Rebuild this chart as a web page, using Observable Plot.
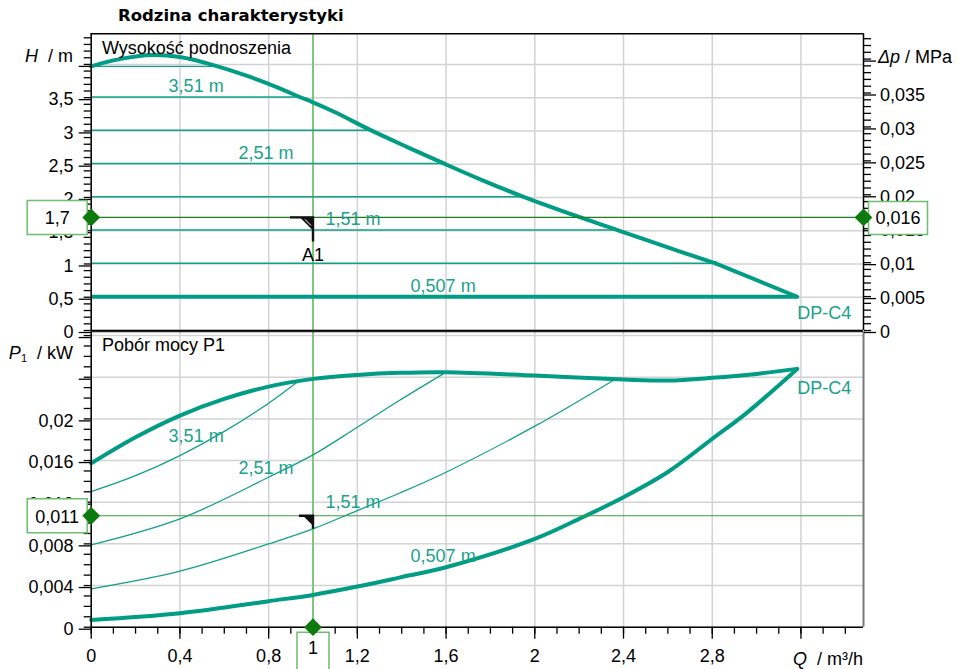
<!DOCTYPE html>
<html>
<head>
<meta charset="utf-8">
<script src="https://cdn.jsdelivr.net/npm/d3@7"></script>
<script src="https://cdn.jsdelivr.net/npm/@observablehq/plot@0.6"></script>
<style>
  html, body { margin: 0; padding: 0; background: #fff; }
  #wrap { position: relative; width: 957px; height: 669px; overflow: hidden; background: #fff;
          font-family: "Liberation Sans", Arial, sans-serif; color: #000; }
  #wrap svg { position: absolute; left: 0; }
  .lbl { position: absolute; font-size: 18px; line-height: 18px; white-space: nowrap; }
  #title { position: absolute; left: 118px; top: 8px; font: bold 16.5px/16.5px "DejaVu Sans", Verdana, sans-serif; }
</style>
</head>
<body>
<div id="wrap">
  <div id="title">Rodzina charakterystyki</div>
</div>
<script>
// ---------------- data ----------------
// Q axis (m³/h)
const xMajor = [0, 0.4, 0.8, 1.2, 1.6, 2, 2.4, 2.8, 3.2];
const xMajorLabels = ["0", "0,4", "0,8", "1,2", "1,6", "2", "2,4", "2,8", ""];
const xMinor = d3.range(0, 35).map(i => i / 10);

// H axis (m)
const hMajor = [0, 0.5, 1, 1.5, 2, 2.5, 3, 3.5, 4];
const hMajorLabels = ["0", "0,5", "1", "1,5", "2", "2,5", "3", "3,5", ""];
const hMinor = d3.range(0, 45).map(i => i / 10);

// Δp axis (MPa)
const dpMajor = [0, 0.005, 0.01, 0.015, 0.02, 0.025, 0.03, 0.035, 0.04];
const dpMajorLabels = ["0", "0,005", "0,01", "0,015", "0,02", "0,025", "0,03", "0,035", ""];
const dpMinor = d3.range(0, 44).map(i => i / 1000);
const M_PER_MPA = 102;

// P1 axis (kW)
const pMajor = [0, 0.004, 0.008, 0.012, 0.016, 0.02, 0.024, 0.028];
const pMajorLabels = ["0", "0,004", "0,008", "0,012", "0,016", "0,02", "", ""];
const pMinor = d3.range(0, 29).map(i => i / 1000);

// Max curve H(Q)
const hCurveQ = [0, 0.1, 0.2, 0.282, 0.4, 0.55, 0.7, 0.85, 0.94, 1.0, 1.1, 1.267, 1.43, 1.597, 1.77, 1.949, 2.206, 2.372, 2.59, 2.815];
const hCurveH = [3.97, 4.06, 4.12, 4.14, 4.11, 3.99, 3.83, 3.64, 3.51, 3.43, 3.28, 3.0, 2.75, 2.5, 2.25, 2.01, 1.7, 1.51, 1.26, 1.01];
const hLimitQ = [2.815, 3.183];
const hLimitH = [1.01, 0.507];

// constant-pressure levels (top panel)
const levelH = [3.97, 3.51, 3.01, 2.51, 2.01, 1.51, 1.01];
const levelQEnd = [0.55, 0.94, 1.267, 1.597, 1.949, 2.372, 2.815];
const minLevelH = 0.507;
const minLevelQEnd = 3.183;

// power curves P1(Q)
const pMaxQ = [0, 0.2, 0.4, 0.6, 0.8, 1.0, 1.2, 1.389, 1.6, 2.0, 2.4, 2.6, 2.8, 3.0, 3.183];
const pMaxP = [0.01574, 0.01824, 0.02032, 0.02192, 0.0231, 0.02384, 0.02422, 0.02442, 0.02448, 0.02416, 0.02378, 0.02368, 0.02394, 0.02432, 0.0248];
const pMinQ = [0, 0.4, 0.8, 1.0, 1.2, 1.389, 1.6, 2.0, 2.2, 2.4, 2.6, 2.8, 2.95, 3.183];
const pMinP = [0.0007, 0.00134, 0.0025, 0.0031, 0.0039, 0.00476, 0.00576, 0.00848, 0.0104, 0.01248, 0.0149, 0.01808, 0.02048, 0.0248];
const p351Q = [0, 0.2, 0.4, 0.6, 0.8, 0.94];
const p351P = [0.01302, 0.01455, 0.01648, 0.0188, 0.0215, 0.0237];
const p251Q = [0, 0.4, 0.8, 1.0, 1.2, 1.389, 1.587];
const p251P = [0.0079, 0.0104, 0.0144, 0.01654, 0.0192, 0.02176, 0.02432];
const p151Q = [0, 0.4, 0.8, 1.0, 1.2, 1.389, 1.6, 2.0, 2.357];
const p151P = [0.00368, 0.00538, 0.008, 0.00944, 0.0112, 0.01286, 0.01488, 0.0193, 0.02374];

// curve labels
const curveLabels = ["3,51 m", "2,51 m", "1,51 m", "0,507 m"];
const curveLabelH = [3.51, 2.51, 1.51, 0.507];
const curveLabelQ = [0.349, 0.664, 1.056, 1.44];
const curveLabelP = [0.0178, 0.01474, 0.01148, 0.00626];
const pumpName = "DP-C4";

// operating point
const opQ = 1, opH = 1.7, opP = 0.0107;
const opQText = "1", opHText = "1,7", opDpText = "0,016", opPText = "0,011", opName = "A1";

// ---------------- layout / style ----------------
const W = 957, ML = 90.7, MR = 94;
const Q_MAX = 3.482, H_MAX = 4.46, P_MAX = 0.02839;
const TEAL = "#009c84", TEAL_THIN = "#13a08a", TEAL_TXT = "#1aa28b", GRID = "#d3d3d3";
const OPDARK = "#1d7e1d", OPLIGHT = "#80c680", BOXC = "#6cbf6c", DIAM = "#0c7a0c";
const FONT = "'Liberation Sans', Arial, sans-serif";
const SMOOTH = "catmull-rom";

const zip = (xs, ys) => xs.map((x, i) => ({x, y: ys[i]}));
const hCurve = zip(hCurveQ, hCurveH);
const hLimit = zip(hLimitQ, hLimitH);
const levels = levelH.map((h, i) => ({h, q: levelQEnd[i]}));
const topLabels = curveLabels.map((t, i) => ({t, x: curveLabelQ[i], y: curveLabelH[i]}));
const botLabels = curveLabels.map((t, i) => ({t, x: curveLabelQ[i], y: curveLabelP[i]}));

const fmtFrom = (vals, labels) => d => { const i = vals.findIndex(v => Math.abs(v - d) < 1e-9); return i >= 0 ? labels[i] : ""; };

// custom symbols (pixel shapes drawn at the data point)
const boxSym = (x0, y0, w, h) => ({draw(ctx) { ctx.rect(x0, y0, w, h); }});
const lSymBig = {draw(ctx) { ctx.moveTo(-23, 0); ctx.lineTo(0, 0); ctx.lineTo(0, 24); }};
const triBig = {draw(ctx) { ctx.moveTo(-13, 0); ctx.lineTo(0, 0); ctx.lineTo(0, 13); ctx.closePath(); }};
const hatchBig = {draw(ctx) { ctx.moveTo(-8, 2); ctx.lineTo(-2, 8); }};
const lSymSmall = {draw(ctx) { ctx.moveTo(-14, 0); ctx.lineTo(0, 0); ctx.lineTo(0, 13); }};
const triSmall = {draw(ctx) { ctx.moveTo(-10, 0); ctx.lineTo(0, 0); ctx.lineTo(0, 10); ctx.closePath(); }};

const style = {background: "transparent", fontFamily: FONT, fontSize: "18px", overflow: "visible", color: "black"};

// ---------------- top panel ----------------
const topPlot = Plot.plot({
  width: W, height: 340, marginLeft: ML, marginRight: MR, marginTop: 33.3, marginBottom: 10,
  x: {domain: [0, Q_MAX], axis: null},
  y: {domain: [0, H_MAX], axis: null},
  style,
  marks: [
    Plot.ruleX(xMajor, {stroke: GRID, strokeWidth: 1.5}),
    Plot.ruleY(hMajor, {stroke: GRID, strokeWidth: 1.5}),
    Plot.ruleX([opQ], {stroke: OPLIGHT, strokeWidth: 2}),
    Plot.link(levels, {x1: () => 0, x2: "q", y1: "h", y2: "h", stroke: TEAL_THIN, strokeWidth: 1.4}),
    Plot.link([minLevelH], {x1: () => 0, x2: () => minLevelQEnd, y1: d => d, y2: d => d, stroke: TEAL, strokeWidth: 4}),
    Plot.line(hCurve, {x: "x", y: "y", curve: SMOOTH, stroke: TEAL, strokeWidth: 4, strokeLinecap: "round"}),
    Plot.line(hLimit, {x: "x", y: "y", stroke: TEAL, strokeWidth: 4, strokeLinecap: "round"}),
    Plot.ruleY([opH], {stroke: OPDARK, strokeWidth: 1.3}),
    // frame
    Plot.ruleY([0, H_MAX], {stroke: "black", strokeWidth: 1.5}),
    Plot.ruleX([0, Q_MAX], {stroke: "black", strokeWidth: 1.5}),
    // left axis
    Plot.axisY({ticks: hMinor, tickSize: 7, tickFormat: () => "", label: null, strokeWidth: 1.3}),
    Plot.axisY({ticks: hMajor, tickSize: 12, tickPadding: 5.7, dy: 2, tickFormat: fmtFrom(hMajor, hMajorLabels), label: null, strokeWidth: 1.3}),
    // right axis (Δp)
    Plot.axisY({anchor: "right", ticks: dpMinor.map(v => v * M_PER_MPA), tickSize: 7, tickFormat: () => "", label: null, strokeWidth: 1.3}),
    Plot.axisY({anchor: "right", ticks: dpMajor.map(v => v * M_PER_MPA), tickSize: 12, tickPadding: 4.5, dy: 2,
      tickFormat: fmtFrom(dpMajor.map(v => v * M_PER_MPA), dpMajorLabels), label: null, strokeWidth: 1.3}),
    // curve labels
    Plot.text(topLabels, {x: "x", y: "y", text: "t", textAnchor: "start", lineAnchor: "bottom", dy: -5, fill: TEAL_TXT, fontSize: 18}),
    Plot.text([pumpName], {x: () => hLimitQ[1], y: () => hLimitH[1], text: d => d, textAnchor: "start", lineAnchor: "bottom", dy: 22.7, fill: TEAL_TXT, fontSize: 18}),
    // operating point symbol
    Plot.dot([opH], {x: () => opQ, y: d => d, symbol: lSymBig, fill: "none", stroke: "#111", strokeWidth: 2.4}),
    Plot.dot([opH], {x: () => opQ, y: d => d, symbol: triBig, fill: "#111", stroke: "none"}),
    Plot.dot([opH], {x: () => opQ, y: d => d, symbol: hatchBig, fill: "none", stroke: "white", strokeWidth: 1}),
    Plot.text([opName], {x: () => opQ, y: () => opH, text: d => d, lineAnchor: "bottom", dy: 44, fontSize: 18, fill: "black"}),
    // value boxes
    Plot.dot([opH], {x: () => 0, y: d => d, symbol: boxSym(-64, -17, 60, 34), fill: "white", stroke: BOXC, strokeWidth: 1.5}),
    Plot.text([opHText], {x: () => 0, y: () => opH, text: d => d, dx: -34, dy: 1, fontSize: 18, fill: "black"}),
    Plot.dot([opH], {x: () => Q_MAX, y: d => d, symbol: boxSym(5, -16, 59, 33), fill: "white", stroke: BOXC, strokeWidth: 1.5}),
    Plot.text([opDpText], {x: () => Q_MAX, y: () => opH, text: d => d, dx: 34.5, dy: 1, fontSize: 18, fill: "black"}),
    Plot.dot([0, Q_MAX], {x: d => d, y: () => opH, symbol: "diamond2", r: 8, fill: DIAM, stroke: "none"})
  ]
});
topPlot.style.top = "0px";

// ---------------- bottom panel ----------------
const pMax = zip(pMaxQ, pMaxP), pMin = zip(pMinQ, pMinP);
const thin = [zip(p351Q, p351P), zip(p251Q, p251P), zip(p151Q, p151P)];

const botPlot = Plot.plot({
  width: W, height: 369, marginLeft: ML, marginRight: MR, marginTop: 31, marginBottom: 42.3,
  x: {domain: [0, Q_MAX], axis: null},
  y: {domain: [0, P_MAX], axis: null},
  style,
  marks: [
    Plot.ruleX(xMajor, {stroke: GRID, strokeWidth: 1.5}),
    Plot.ruleY(pMajor, {stroke: GRID, strokeWidth: 1.5}),
    Plot.ruleX([opQ], {stroke: OPLIGHT, strokeWidth: 2}),
    ...thin.map(d => Plot.line(d, {x: "x", y: "y", curve: SMOOTH, stroke: TEAL_THIN, strokeWidth: 1.3})),
    Plot.line(pMax, {x: "x", y: "y", curve: SMOOTH, stroke: TEAL, strokeWidth: 4, strokeLinecap: "round"}),
    Plot.line(pMin, {x: "x", y: "y", curve: SMOOTH, stroke: TEAL, strokeWidth: 4, strokeLinecap: "round"}),
    Plot.ruleY([opP], {stroke: "#3f9c3f", strokeWidth: 1.2}),
    // frame
    Plot.ruleX([Q_MAX], {stroke: "#7a7a7a", strokeWidth: 2}),
    Plot.ruleY([0, P_MAX], {stroke: "black", strokeWidth: 1.5}),
    Plot.ruleX([0], {stroke: "black", strokeWidth: 1.5}),
    // axes
    Plot.axisY({ticks: pMinor, tickSize: 7, tickFormat: () => "", label: null, strokeWidth: 1.3}),
    Plot.axisY({ticks: pMajor, tickSize: 12, tickPadding: 5.7, dy: 2, tickFormat: fmtFrom(pMajor, pMajorLabels), label: null, strokeWidth: 1.3}),
    Plot.axisX({ticks: xMinor, tickSize: 7, tickFormat: () => "", label: null, strokeWidth: 1.3}),
    Plot.axisX({ticks: xMajor, tickSize: 12, tickPadding: 10.5, tickFormat: fmtFrom(xMajor, xMajorLabels), label: null, strokeWidth: 1.3}),
    // labels
    Plot.text(botLabels, {x: "x", y: "y", text: "t", textAnchor: "start", lineAnchor: "bottom", fill: TEAL_TXT, fontSize: 18}),
    Plot.text([pumpName], {x: () => pMaxQ[pMaxQ.length - 1], y: () => pMaxP[pMaxP.length - 1], text: d => d, textAnchor: "start", lineAnchor: "bottom", dy: 25.6, fill: TEAL_TXT, fontSize: 18}),
    // operating point symbol
    Plot.dot([opP], {x: () => opQ, y: d => d, symbol: lSymSmall, fill: "none", stroke: "#111", strokeWidth: 2.4}),
    Plot.dot([opP], {x: () => opQ, y: d => d, symbol: triSmall, fill: "#111", stroke: "none"}),
    // boxes
    Plot.dot([opP], {x: () => 0, y: d => d, symbol: boxSym(-64, -17, 60, 34), fill: "white", stroke: BOXC, strokeWidth: 1.5}),
    Plot.text([opPText], {x: () => 0, y: () => opP, text: d => d, dx: -34, dy: 1, fontSize: 18, fill: "black"}),
    Plot.dot([0], {x: () => opQ, y: d => d, symbol: boxSym(-16, 5, 32, 60), fill: "white", stroke: BOXC, strokeWidth: 1.5}),
    Plot.text([opQText], {x: () => opQ, y: () => 0, text: d => d, lineAnchor: "top", dy: 14, fontSize: 18, fill: "black"}),
    Plot.dot([0], {x: () => 0, y: () => opP, symbol: "diamond2", r: 8, fill: DIAM, stroke: "none"}),
    Plot.dot([0], {x: () => opQ, y: d => d, symbol: "diamond2", r: 8, fill: DIAM, stroke: "none"})
  ]
});
botPlot.style.top = "300px";

const wrap = document.getElementById("wrap");
wrap.appendChild(botPlot);
wrap.appendChild(topPlot);

// ---------------- HTML labels (titles, axis names) ----------------
function addLabel(html, css) {
  const d = document.createElement("div");
  d.className = "lbl";
  d.innerHTML = html;
  Object.assign(d.style, css);
  wrap.appendChild(d);
}
addLabel("Wysokość podnoszenia", {left: "102px", top: "38.8px"});
addLabel("Pobór mocy P1", {left: "102px", top: "335.8px"});
addLabel("<i>H</i>&nbsp;&nbsp;/&nbsp;m", {right: (W - 73) + "px", top: "46.8px"});
addLabel("<i>Δp</i>&nbsp;/&nbsp;MPa", {left: "878px", top: "47.8px"});
addLabel("<i>P</i><span style='font-size:11px;position:relative;top:3px'>1</span>&nbsp;&nbsp;/&nbsp;kW", {right: (W - 73) + "px", top: "343.8px"});
addLabel("<i>Q</i>&nbsp;&nbsp;/&nbsp;m³/h", {left: "793px", top: "649.8px"});
// bring title to front
wrap.appendChild(document.getElementById("title"));
</script>
</body>
</html>
